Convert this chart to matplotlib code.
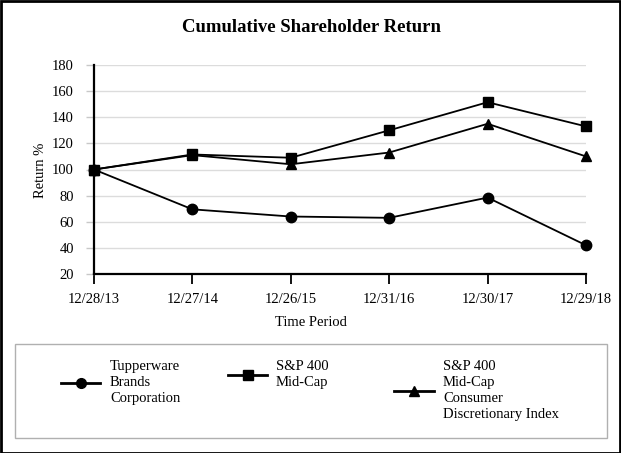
import matplotlib.pyplot as plt
from matplotlib.lines import Line2D
from matplotlib.patches import Rectangle

# data
periods = ['12/28/13', '12/27/14', '12/26/15', '12/31/16', '12/30/17', '12/29/18']
tupperware = [100, 69.5, 64, 63, 78.5, 42]
midcap = [100, 111.5, 109, 130, 151.5, 133]
consumer = [100, 111, 104, 113, 135, 110]

labels = ['Tupperware\nBrands\nCorporation', 'S&P 400\nMid-Cap',
          'S&P 400\nMid-Cap\nConsumer\nDiscretionary Index']
markers = ['o', 's', '^']

plt.rcParams['font.family'] = ['Liberation Serif', 'DejaVu Serif']

W, H = 621, 453
fig = plt.figure(figsize=(W / 100, H / 100), dpi=100)

# axes placed in pixel terms
ax = fig.add_axes([94 / W, 1 - 274 / H, (586 - 94) / W, (274 - 65) / H])

x = list(range(len(periods)))
for vals, m in zip([tupperware, midcap, consumer], markers):
    ax.plot(x, vals, color='black', lw=1.3, marker=m, ms=7.5 if m != '^' else 7,
            clip_on=False, zorder=3)

ax.set_xlim(0, len(periods) - 1)
ax.set_ylim(20, 180)
ax.set_yticks(range(20, 181, 20))
ax.set_xticks(x)
ax.set_xticklabels(periods, fontsize=10.5)
ax.tick_params(axis='x', length=7, width=1.3, pad=7, color='black')
ax.tick_params(axis='y', length=5.5, width=1, color='#c8c8c8', labelsize=10.5, pad=9)
ax.yaxis.grid(True, color='#dcdcdc', lw=1)
ax.set_axisbelow(True)
for s in ['top', 'right']:
    ax.spines[s].set_visible(False)
ax.spines['left'].set_linewidth(1.6)
ax.spines['bottom'].set_linewidth(1.6)

fig.text(40 / W, 1 - 170 / H, 'Return %', rotation=90, ha='center', va='center', fontsize=10.5)
fig.text(311 / W, 1 - 322 / H, 'Time Period', ha='center', va='center', fontsize=10.5)
fig.text(311 / W, 1 - 28 / H, 'Cumulative Shareholder Return', ha='center', va='center',
         fontsize=13.5, fontweight='bold')

# legend box drawn by hand so the multi-line labels sit like the original
fig.patches.append(Rectangle((15 / W, 1 - 438 / H), (607 - 15) / W, (438 - 344) / H,
                             transform=fig.transFigure, fill=False, ec='#b0b0b0', lw=1))
hx = [(61, 100), (228, 267), (394, 434)]
hy = [383, 375, 391]
tx = [110, 276, 443]
for (x0, x1), yy, t, lab, m in zip(hx, hy, tx, labels, markers):
    fig.add_artist(Line2D([x0 / W, x1 / W], [1 - yy / H, 1 - yy / H], color='black', lw=2,
                          transform=fig.transFigure))
    fig.add_artist(Line2D([(x0 + x1) / 2 / W], [1 - yy / H], color='black', marker=m,
                          ms=7 if m != '^' else 6.5, transform=fig.transFigure))
    fig.text(t / W, 1 - 360 / H, lab, ha='left', va='top', fontsize=10.5, linespacing=1.3)

# outer frame
fig.patches.append(Rectangle((0.5 / W, 0.5 / H), (W - 1.5) / W, (H - 1.5) / H,
                             transform=fig.transFigure, fill=False, ec='black', lw=2))

fig.savefig('out.png', dpi=100)
